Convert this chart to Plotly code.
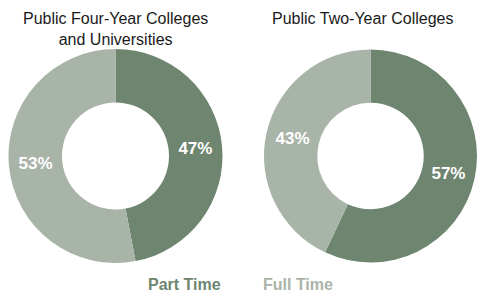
import plotly.graph_objects as go

categories = ["Part Time", "Full Time"]
four_year = [47, 53]
two_year = [57, 43]
titles = ["Public Four-Year Colleges<br>and Universities", "Public Two-Year Colleges"]
colors = ["#6e8570", "#a9b4a9"]

W, H = 477, 295
fig = go.Figure()

def dom(cx, cy, r):
    x0 = max(0, (cx - r) / W)
    x1 = min(1, (cx + r) / W)
    yc = H - cy
    return dict(x=[x0, x1], y=[(yc - r) / H, (yc + r) / H])

for vals, d in [(four_year, dom(115.5, 156, 107)), (two_year, dom(371, 156, 107))]:
    fig.add_trace(go.Pie(
        labels=categories, values=vals, hole=0.5, sort=False, direction="clockwise",
        rotation=0, marker=dict(colors=colors, line=dict(width=0)),
        textinfo="percent", texttemplate="%{value}%", textposition="inside",
        insidetextorientation="horizontal",
        textfont=dict(family="Liberation Sans, Arial", size=17, color="white", weight="bold"),
        domain=d, showlegend=False, hoverinfo="label+percent",
    ))

title_x = [115.5, 362]
for t, x in zip(titles, title_x):
    fig.add_annotation(text=t, x=x / W, y=1 - 8 / H, xref="paper", yref="paper",
                       xanchor="center", yanchor="top", showarrow=False,
                       font=dict(family="Liberation Sans, Arial", size=16, color="#1a1a1a"))

legend_x = [184, 298]
for c, col, x in zip(categories, colors, legend_x):
    fig.add_annotation(text="<b>" + c + "</b>", x=x / W, y=(H - 284) / H, xref="paper", yref="paper",
                       xanchor="center", yanchor="middle", showarrow=False,
                       font=dict(family="Liberation Sans, Arial", size=16, color=col))

fig.update_layout(width=W, height=H, margin=dict(l=0, r=0, t=0, b=0),
                  paper_bgcolor="white", plot_bgcolor="white")
fig.write_html("out.html", config={"displayModeBar": False},
               post_script="document.body.style.margin='0';document.body.style.overflow='hidden';")
